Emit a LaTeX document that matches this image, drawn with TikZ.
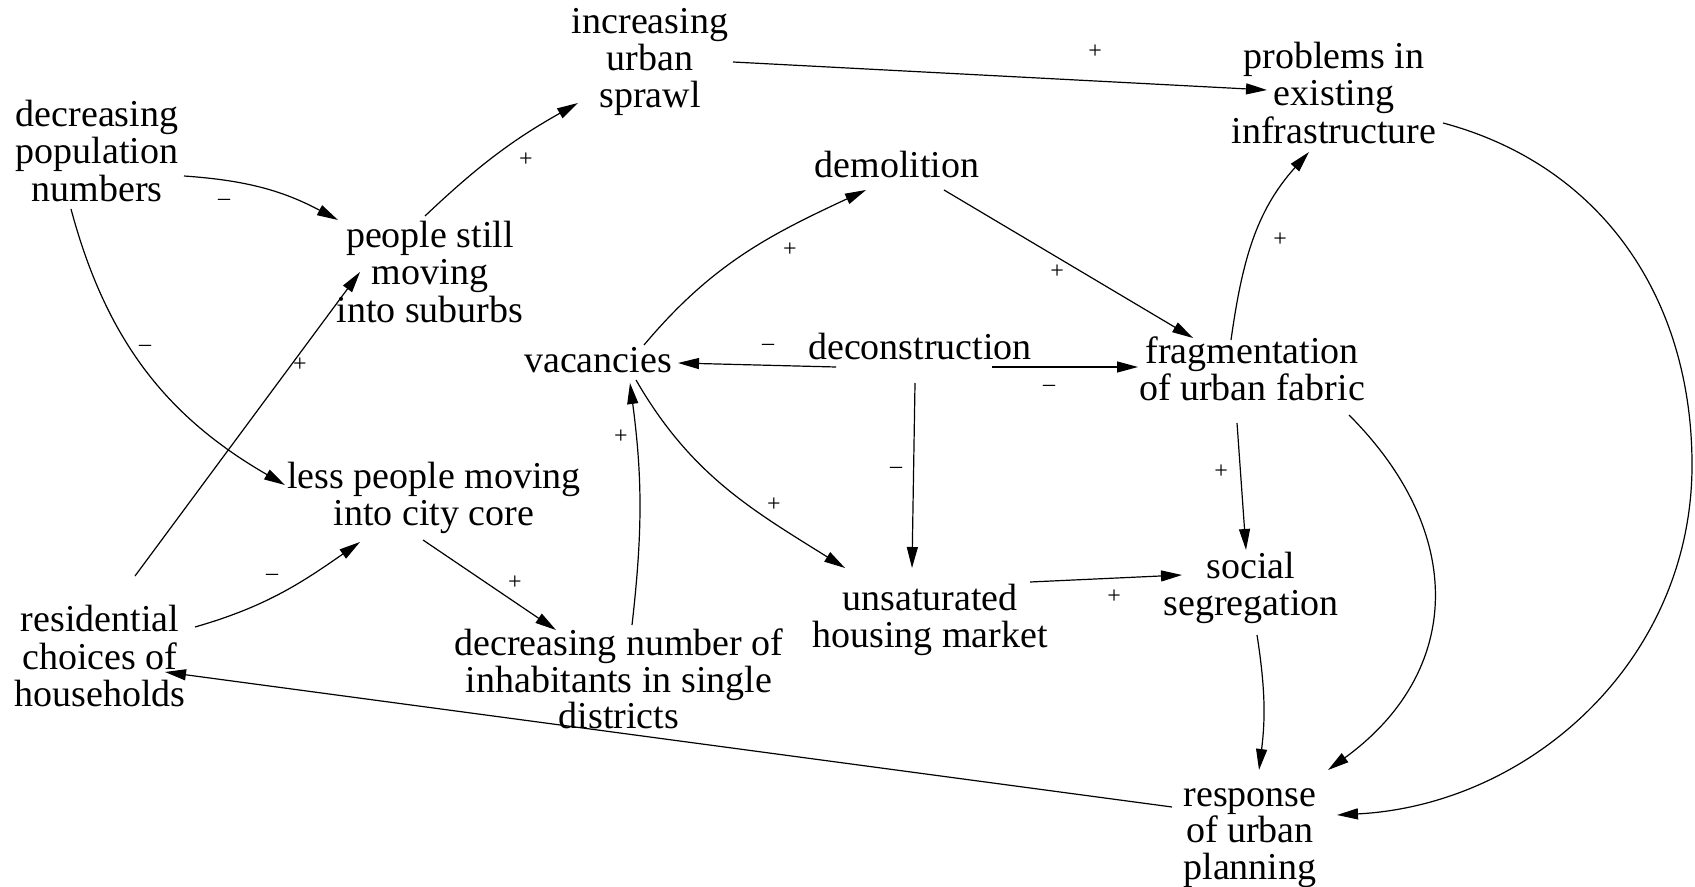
\documentclass[tikz,border=0pt]{standalone}
\usepackage{fontspec}
\setmainfont{Liberation Serif}
\usetikzlibrary{arrows.meta}
\begin{document}
\begin{tikzpicture}[x=0.5pt,y=0.5pt,
  var/.style={align=center,inner sep=0pt,font=\fontsize{19}{18.6}\selectfont},
  link/.style={line width=0.6pt,-{Triangle[length=10.5pt,width=5.5pt]}},
  sign/.style={inner sep=0pt,font=\fontsize{12}{12}\selectfont}]
\useasboundingbox[fill=white] (0,0) rectangle (1695,-887);

% variables of the causal loop diagram
\node[var] (pop)  at (97,-151)   {decreasing\\population\\numbers};
\node[var] (sub)  at (430,-272)  {people still\\moving\\into suburbs};
\node[var] (spr)  at (650,-62)   {increasing\\urban\\sprawl};
\node[var] (prob) at (1334,-93)  {problems in\\existing\\infrastructure};
\node[var] (dem)  at (897,-165)  {demolition};
\node[var] (vac)  at (598,-360)  {vacancies};
\node[var] (dec)  at (920,-347)  {deconstruction};
\node[var] (frag) at (1252,-369) {fragmentation\\of urban fabric};
\node[var] (less) at (434,-498)  {less people moving\\into city core};
\node[var] (res)  at (100,-656)  {residential\\choices of\\households};
\node[var,font=\fontsize{19}{16}\selectfont] (inh) at (619,-679)
  {decreasing number of\\inhabitants in single\\districts};
\node[var] (uns)  at (930,-620)  {unsaturated\\housing market};
\node[var] (soc)  at (1251,-588) {social\\segregation};
\node[var,font=\fontsize{19}{18.2}\selectfont] (resp) at (1250,-838) {response\\of urban\\planning};
\coordinate (rim) at (1692,-465);

% causal links
\draw[link] ([shift={(87,-25)}]pop.center) to[bend left=12] ([shift={(-92,52)}]sub.center);
\draw[link] ([shift={(-5,56)}]sub.center) to[bend left=7] ([shift={(-72,-41)}]spr.center);
\draw[link] ([shift={(83,0)}]spr.center) -- ([shift={(-67,3)}]prob.center);
\draw[link] ([shift={(-26,-58)}]pop.center) to[out=-75,in=150] ([shift={(-149,13)}]less.center);
\draw[link] ([shift={(35,80)}]res.center) -- ([shift={(-70,0)}]sub.center);
\draw[link] ([shift={(95,29)}]res.center) to[out=16,in=-145] ([shift={(-74,-44)}]less.center);
\draw[link] ([shift={(-11,-42)}]less.center) -- ([shift={(-63,49)}]inh.center);
\draw[link] ([shift={(13,54)}]inh.center) to[bend right=7] ([shift={(32,-23)}]vac.center);
\draw[link] ([shift={(46,15)}]vac.center) to[out=50,in=-155] ([shift={(-31,-25)}]dem.center);
\draw[link] ([shift={(47,-25)}]dem.center) -- ([shift={(-59,31)}]frag.center);
\draw[link] ([shift={(-84,-20)}]dec.center) -- ([shift={(80,-3)}]vac.center);
\draw[link] ([shift={(72,-20)}]dec.center) -- ([shift={(-114,2)}]frag.center);
\draw[link] ([shift={(-5,-36)}]dec.center) -- ([shift={(-18,52)}]uns.center);
\draw[link] ([shift={(38,-20)}]vac.center) to[out=-60,in=148] ([shift={(-85,52)}]uns.center);
\draw[link] ([shift={(100,38)}]uns.center) -- ([shift={(-69,13)}]soc.center);
\draw[link] ([shift={(-15,-54)}]frag.center) -- ([shift={(-5,38)}]soc.center);
\draw[link] ([shift={(-21,29)}]frag.center) to[out=82,in=-132] ([shift={(-25,-59)}]prob.center);
\draw[link] ([shift={(6,-47)}]soc.center) to[bend left=8] ([shift={(9,68)}]resp.center);
\draw[link] ([shift={(97,-46)}]frag.center) to[out=-45,in=36,looseness=1.2] ([shift={(78,68)}]resp.center);
\draw[link] ([shift={(109,-30)}]prob.center) to[out=-15,in=90] (rim)
  to[out=-90,in=3] ([shift={(87,23)}]resp.center);
\draw[link] ([shift={(-78,31)}]resp.center) -- ([shift={(65,-16)}]res.center);

% polarities
\node[sign] (p1)  at (224,-202)  {–};
\node[sign] (p2)  at (526,-160)  {+};
\node[sign] (p3)  at (1095,-52)  {+};
\node[sign] (p4)  at (145,-348)  {–};
\node[sign] (p5)  at (300,-365)  {+};
\node[sign] (p6)  at (272,-577)  {–};
\node[sign] (p7)  at (515,-583)  {+};
\node[sign] (p8)  at (621,-437)  {+};
\node[sign] (p9)  at (790,-250)  {+};
\node[sign] (p10) at (1057,-272) {+};
\node[sign] (p11) at (768,-347)  {–};
\node[sign] (p12) at (1049,-388) {–};
\node[sign] (p13) at (896,-470)  {–};
\node[sign] (p14) at (774,-505)  {+};
\node[sign] (p15) at (1114,-597) {+};
\node[sign] (p16) at (1221,-472) {+};
\node[sign] (p17) at (1280,-240) {+};
\end{tikzpicture}
\end{document}
